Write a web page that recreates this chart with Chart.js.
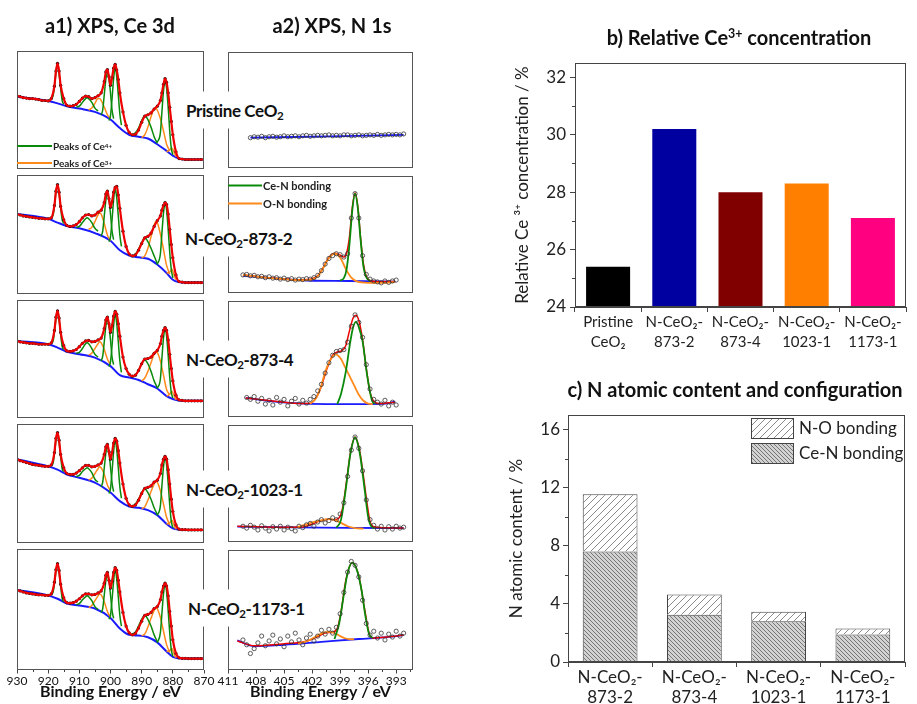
<!DOCTYPE html>
<html><head><meta charset="utf-8"><title>XPS Ce 3d / N 1s</title>
<script src="https://cdn.jsdelivr.net/npm/chart.js@4.4.1/dist/chart.umd.min.js"></script>
<style>
html,body{margin:0;padding:0;background:#fff}
#page{position:relative;width:917px;height:704px;overflow:hidden;font-family:Lato,"Open Sans",sans-serif;color:#111}
canvas{position:absolute;display:block}
.t{position:absolute;white-space:nowrap;z-index:5;line-height:1}
.ttl{font-weight:700;font-size:20px;transform:translate(-50%,-50%)}
.lab{font-weight:700;font-size:17px;letter-spacing:-0.4px;background:#fff;padding:10px 4px;transform:translateY(-50%)}
.leg{font-weight:700;display:flex;align-items:center;transform:translateY(-50%);color:#222}
.leg i{display:inline-block;height:0;border-top:2px solid;margin-right:1px}
sub{font-size:0.68em;vertical-align:-0.3em;line-height:0}
sup{font-size:0.62em;vertical-align:0.55em;line-height:0}
</style></head><body><div id="page">
<div class="t ttl" style="left:110px;top:25px">a1) XPS, Ce 3d</div>
<div class="t ttl" style="left:332px;top:25px">a2) XPS, N 1s</div>
<div class="t ttl" style="left:739px;top:37px">b) Relative Ce<sup>3+</sup> concentration</div>
<div class="t ttl" style="left:735px;top:389px">c) N atomic content and configuration</div>
<div class="t lab" style="left:182px;top:110px">Pristine CeO<sub>2</sub></div>
<div class="t lab" style="left:181px;top:238px">N-CeO<sub>2</sub>-873-2</div>
<div class="t lab" style="left:182px;top:359px">N-CeO<sub>2</sub>-873-4</div>
<div class="t lab" style="left:182px;top:489px">N-CeO<sub>2</sub>-1023-1</div>
<div class="t lab" style="left:184px;top:608px">N-CeO<sub>2</sub>-1173-1</div>
<div class="t leg" style="left:17px;top:145.5px;font-size:10px"><i style="width:35px;border-color:#0a8a0a"></i>Peaks of Ce<sup>4+</sup></div>
<div class="t leg" style="left:17px;top:162.5px;font-size:10px"><i style="width:35px;border-color:#ff8a1c"></i>Peaks of Ce<sup>3+</sup></div>
<div class="t leg" style="left:228px;top:185px;font-size:11px"><i style="width:34px;border-color:#0a8a0a"></i>Ce-N bonding</div>
<div class="t leg" style="left:228px;top:203px;font-size:11px"><i style="width:34px;border-color:#ff8a1c"></i>O-N bonding</div>
</div>
<script>
// ===================== DATA =====================
// --- a1) Ce 3d: binding energy grid (eV) and intensities (a.u., read off each panel)
const ceE = [930,929,928,927,926,925,924,923,922,921, 920,919,918,917.5,917,916.5,916,915,914,913,
  912,911,910,909,908,907,906,905,904,903, 902,901.5,901,900.5,900,899.5,899,898.5,898,897.5,
  897,896,895,894,893,892,891,890,889,888, 887,886,885,884,883.5,883,882.5,882,881.5,881,
  880.5,880,879,878,877,876,875,874,873,872, 871,870];
const ceEnv1 = [77,76,75,74.5,74,74,73.5,73,72,72, 71.5,74,87,103,111,103,88,74,67,66,
  66.5,68,71,74.5,76.5,76,74,75,77,80, 92,102,104.5,97,88,96,106,110,104,94,
  80,60,46,38.5,36,36.5,41,49,55.5,57, 59,63,66,72,80,89,95,91,80,65,
  50,36,18,11,10.5,10,10,10,10,10, 10,10];
const ceEnv2 = [84,83,82,81.5,81,80.5,80,79.5,79.5,79, 79,80,93,108,115,107,92,78,72,71,
  71.5,73,76,80,83,83.5,82,83,86,88, 96,105,108,100,91,97,107,112,113,104,
  90,66,50,42,40,41,46,53,59,60.5, 64,71,77,82,88,93,96,94,84,68,
  52,38,20,13,12.5,12,12,12,12,12, 12,12];
const ceEnv3 = [81,80,79.5,79,78.5,78.5,78,77.5,77.5,77.5, 77.5,79,92,106,112.5,105,90,76,70.5,70,
  70.5,72,75,78.5,81,81.5,80,80.5,82,84, 94,103,106,99,90,97,107,112,109,99,
  86,64,52,46,44,45,50,57,62,62.5, 64,68,71,78,86,92,95,92,82,67,
  52,39,24,19,18.5,18,18,18,18,18, 18,18];
const ceEnv4 = [88,86.5,85.5,84.5,83.5,82.5,82,81.5,81,80.5, 80.5,82,95,110,116,108,93,79,73,72,
  72,73.5,76,79,81.5,81.5,80,80.5,82,84, 93,101,103.5,96,88,95,105,110,107,97,
  84,62,47,40,38.5,40,45,52,57.5,58.5, 60,64,66,73,82,88,91,88,77,62,
  46,33,19,14.5,14,14,13.7,13.7,13.7,13.7, 13.7,13.7];
const ceEnv5 = [82,81,80,79,78.5,78,77.5,77,77,76.5, 76.5,78,90,103,109,102,88,74,69,68.5,
  69,70.5,73,76,78,78,77,77.5,79,81, 89,97,100,92,84,91,100,105,102,92,
  80,59,45,38,36,37.5,43,50,56,57, 59,63,65,72,80,86,89,86,76,60,
  45,31,17,12.5,12,12,11.7,11.7,11.7,11.7, 11.7,11.7];
// background (Shirley-like) of each Ce 3d panel
const ceBgE = [930,920,917,914,910,905,900,897,894,891,888,885,882,880,878,876,870];
const ceBg1 = [76,71.5,69,66,63.5,60,52,43,36,34,32,26,19,14,11,10,10];
const ceBg2 = [84,79,75,71.5,69,64,56,46,40.5,38.5,37,31,22,15,12.5,12,12];
const ceBg3 = [81,77.5,74,69.5,67,63.5,54.5,45,42.5,40,35.5,31,23,20,18.3,18,18];
const ceBg4 = [88,80.5,77,72,68.5,63.5,53,44,38.3,37,34.5,29.3,20,15.5,14,13.7,13.7];
const ceBg5 = [82,76.5,73,68,66,63,53.3,42.5,36,35.3,33.5,28.3,19,13.5,12,11.7,11.7];
// fitted components: Ce4+ (u''', u'', u, v''', v'', v) and Ce3+ (u', v', v0)
const ceGreenE = [[920,918.5,918,917.5,917,916.5,916,915.5,915],
  [911,910,909,908,907.5,907,906,905,904],
  [903,902.5,902,901.5,901,900.5,900,899.5,899],
  [900.5,900,899.5,899,898.5,898,897.5,897,896.5],
  [893,892,891,890,889,888,887,886,885],
  [885,884,883.5,883,882.5,882,881.5,881,880.5,880]];
const ceOrangeE = [[907,906,905,904,903.5,903,902,901,900],
  [890,889,888,887,886,885.5,885,884,883,882,881],
  [882,881,880.3,879.5,879]];
const ceGreen1 = [[72,76,86,101,110,100,85,72,68],[65,66,70,74,75,74,70,64,61],[57,62,78,94,101,95,80,62,53],
  [51,56,74,95,107,97,78,58,46],[36,38,43,51,56,52,44,34,27],[28,38,60,82,92,85,65,40,22,15]];
const ceOrange1 = [[62,64,69,74,74,72,65,57,53],[33,36,44,55,63,64,62,53,40,26,19],[18,20,22,17,13]];
const ceGreen2 = [[79,82,92,107,114,106,91,78,74],[70,71,75,79,80,79,75,69,66],[61,66,82,98,105,99,84,66,57],
  [55,60,78,99,111,101,82,62,50],[40,42,47,54,59,55,48,40,32],[31,42,64,85,95,88,68,44,26,17]];
const ceOrange2 = [[68,70,76,83,85,84,74,62,56],[38,40,48,60,72,76,75,63,47,30,21],[22,23,26,19,15]];
const ceGreen3 = [[77.5,80,90,104,112,103,88,75,72],[68,69,73,78,79,78,73,67,64],[60,65,80,96,103,97,82,64,56],
  [54,59,76,97,109,99,80,60,48],[43,45,50,57,61,57,49,39,32],[31,41,63,84,93,86,66,43,27,21]];
const ceOrange3 = [[66,68,73,78,80,79,72,62,56],[39,42,49,58,67,70,69,60,45,30,24],[23,25,28,23,19]];
const ceGreen4 = [[80.5,83,93,108,115,106,91,78,75],[70,71,75,78,79,78,74,67,64],[59,64,79,94,101,95,80,63,54],
  [52,57,75,96,108,98,79,59,47],[39,41,46,53,57,53,46,37,30],[29,39,60,80,89,82,63,40,23,16]];
const ceOrange4 = [[66,68,73,78,80,79,72,61,55],[36,38,45,54,62,65,64,55,41,27,19],[20,21,24,18,14.5]];
const ceGreen5 = [[76.5,79,88,101,108.5,100,86,73,70],[67,68,72,75,76,75,71,65,62],[59,63,77,91,97,92,77,61,53],
  [52,56,72,91,103,93,75,56,45],[37,39,45,52,56,52,45,36,29],[28,38,58,78,87,80,61,38,21,14]];
const ceOrange5 = [[64,66,71,76,78,77,70,60,54],[35,37,44,53,61,64,63,54,40,26,18],[19,20,22,16,12.5]];
const ceTicks = [930,920,910,900,890,880,870];
const ceMinor = [925,915,905,895,885,875];

// --- a2) N 1s: energy grid of the measured points and their intensities
const nE = [409.4,409.0,408.6,408.2,407.8,407.4,407.0,406.6,406.2,405.8, 405.4,405.0,404.6,404.2,403.8,403.4,403.0,402.6,402.2,401.8,
  401.4,401.0,400.6,400.2,399.8,399.4,399.0,398.6,398.2,397.8, 397.4,397.0,396.6,396.2,395.8,395.4,395.0,394.6,394.2,393.8,
  393.4,393.0,392.6,392.2];
const nDots1 = [null,null,32.5,33.5,33,34,32.5,33.5,34,33, 33.5,34.5,33.5,34,34.5,33.5,34.5,35,34,34.5,
  35,34.5,35,35.5,34.5,35,34.5,35.5,35.5,34.5, 35,35.5,34.5,35,35.5,35,36,35,35.5,36, 35.5,36,35.5,36.5];
const nDots2 = [19.5,20,18.5,19,17.5,18,16.5,17.5,16,16.5, 15,16,14.5,15.5,14,15,14.5,15.5,15,16.5,
  19,24,31,37,40,42,41,38.5,42,80, 106,80,40,20,15,13,12,11,13,11.5, 13,14,null,null];
const nDots3 = [null,21,19,22,17,20,14,18,13,21, 16,19,12,17,20,14,18,15,19,22,
  28,35,47,58,66,70,71,72,80,97, 109,101,85,56,30,19,16,14,18,12, 16,13,null,null];
const nDots4 = [17,15,18,16,13,17.5,15,12,16.5,14, 17,13,16,14.5,12,17,15.5,18.5,20,17,
  21.5,24,20.5,23,26,24,30,42,70,98, 112,100,76,45,24,18,14,17,13,16.5, 14,17,15,16];
const nDots5 = [31,26,17,22,28,35,25,30,36,27, 32,24,35,29,38,31,26,33,37,30,
  35,41,37,42,38,44,58,80,101,112, 108,96,72,48,36,40,33,38,31,37, 34,40,35,38];
// fitted envelope, background, Ce-N and O-N components: [eV, intensity]
const nFit1 = [];
const nBg1 = [[408.6,32.5],[400,34],[392.2,35.5]];
const nCeN1 = [];
const nON1 = [];
const nFit2 = [[409.4,19.5],[407,16.8],[405,15.2],[403.5,14.3],[402.2,14.8],[401.4,18.5],[400.8,27.5],[400.2,38],[399.6,42.5],[399.0,40.5],[398.6,38.5],[398.3,43],[398.0,60],[397.7,91],[397.4,107],[397.1,92],[396.8,58],[396.5,31],[396.2,18],[395.8,13.5],[395,12.3],[393.1,12.5]];
const nBg2 = [[409.4,18.5],[405,15],[402.5,13.5],[398,13],[393.1,12.2]];
const nON2 = [[409.4,19.5],[407,16.5],[405,15],[403.5,13.8],[402.2,14.3],[401.4,18],[400.8,27],[400.2,37.5],[399.6,42],[399.0,38],[398.4,26],[397.8,16.5],[397.2,12.5],[396.0,11],[394.5,11],[393.1,12]];
const nCeN2 = [[399.0,13.5],[398.6,16],[398.3,26],[398.0,52],[397.7,88],[397.4,106],[397.1,90],[396.8,56],[396.5,28],[396.2,17],[395.8,13]];
const nFit3 = [[409.1,20.5],[406,17],[403,14.5],[402.2,14.8],[401.5,22],[401,33],[400.4,52],[399.8,66],[399.3,69.5],[398.8,71],[398.4,76],[398.0,92],[397.6,106],[397.3,108.5],[397.0,103],[396.6,83],[396.2,52],[395.8,27],[395.4,17],[394.8,14.5],[393.1,16]];
const nBg3 = [[409.1,20.5],[405.5,16],[402.2,14.3],[398,14],[394.5,14.2],[393.1,16.5]];
const nON3 = [[402.2,14.3],[401.6,20],[401.1,31],[400.6,48],[400.2,58],[399.5,67],[398.9,62],[398.6,56],[398.0,44],[397.5,34],[397.0,24],[396.5,17.5],[396.0,14.5],[395.5,14]];
const nCeN3 = [[399.3,14],[398.9,25],[398.4,48],[397.9,81],[397.6,96],[397.3,101.5],[397.0,96],[396.6,81],[396.1,44],[395.6,18],[395.3,14.3]];
const nFit4 = [[410,17],[406,16],[403,16.3],[402.2,18.5],[401.2,22.5],[400.2,24.5],[399.6,24],[399.1,26],[398.7,38],[398.3,66],[397.9,95],[397.4,112],[396.9,97],[396.5,70],[396.1,40],[395.8,22],[395.4,16.5],[394.5,15.5],[392.2,15]];
const nBg4 = [[410,16.5],[404,15.8],[398,15.3],[392.2,15]];
const nON4 = [[403.6,16],[402.8,18.5],[402.0,21],[401.2,23],[400.2,24.5],[399.4,23],[398.8,20],[398.2,17],[397.4,15],[396.5,14.5]];
const nCeN4 = [[399.4,15.5],[398.9,24],[398.4,56],[397.9,94],[397.4,111.5],[396.9,95],[396.4,58],[396.0,27],[395.6,16],[395.3,15]];
const nFit5 = [[410,30],[408.2,25],[405,27],[402.5,30],[401.5,34],[400.5,38.5],[399.8,39],[399.3,43],[398.9,60],[398.4,92],[397.7,111],[397.0,97],[396.4,64],[395.9,38],[395.5,33],[394,34],[392.2,36]];
const nBg5 = [[410,30.5],[408.2,24.5],[405,26],[401,29],[397,32],[394,34],[392.2,36]];
const nON5 = [[403.5,27],[402.5,30],[401.5,35],[400.8,38.5],[400.2,39.3],[399.6,38],[399.0,35],[398.4,32.5],[397.5,31.5]];
const nCeN5 = [[399.6,32],[399.1,48],[398.6,78],[398.2,100],[397.7,110.7],[397.2,103],[396.7,82],[396.3,56],[395.9,37],[395.5,33]];
const nTicks = [411,408,405,402,399,396,393];
const nMinor = [409.5,406.5,403.5,400.5,397.5,394.5,391.5];

// --- b) relative Ce3+ concentration
const bLabels = [['Pristine','CeO₂'],['N-CeO₂-','873-2'],['N-CeO₂-','873-4'],['N-CeO₂-','1023-1'],['N-CeO₂-','1173-1']];
const ce3Values = [25.4, 30.2, 28.0, 28.3, 27.1];
const bTicks = [24, 26, 28, 30, 32];
const bMinor = [25, 27, 29, 31];

// --- c) N atomic content and configuration
const cLabels = [['N-CeO₂-','873-2'],['N-CeO₂-','873-4'],['N-CeO₂-','1023-1'],['N-CeO₂-','1173-1']];
const ceNValues = [7.6, 3.25, 2.8, 1.9];
const noValues = [3.95, 1.4, 0.65, 0.4];
const cTicks = [0, 4, 8, 12, 16];
const cMinor = [2, 6, 10, 14];

// ===================== RENDERING =====================
const bColors = ['#000000', '#0000a0', '#800000', '#ff8000', '#ff0080'];
Chart.defaults.font.family = 'Lato, "Open Sans", sans-serif';
const page = document.getElementById('page');
function mk(left, top, w, h){
  const c = document.createElement('canvas');
  c.width = w; c.height = h;
  c.style.left = left + 'px'; c.style.top = top + 'px';
  c.style.width = w + 'px'; c.style.height = h + 'px';
  page.insertBefore(c, page.firstChild);
  return c;
}
const P = arr => arr.map(([x, y]) => ({x, y}));
const Z = (xs, ys) => xs.map((x, i) => ({x, y: ys[i]}));

const frame = {id:'frame', afterDatasetsDraw(chart, args, o){
  const {ctx, chartArea:a} = chart;
  ctx.save(); ctx.strokeStyle = o.color || '#555'; ctx.lineWidth = 1;
  const l = Math.round(a.left), t = Math.round(a.top), r = Math.round(a.right), b = Math.round(a.bottom);
  ctx.strokeRect(l + 0.5, t + 0.5, r - l - 1, b - t - 1);
  ctx.restore();
}};
const minor = {id:'minor', afterDraw(chart, args, o){
  if (!o || !o.values) return;
  const s = chart.scales[o.axis], a = chart.chartArea, ctx = chart.ctx;
  ctx.save(); ctx.strokeStyle = o.color || '#444'; ctx.lineWidth = 1; ctx.beginPath();
  for (const v of o.values){
    const p = Math.round(s.getPixelForValue(v)) + 0.5;
    if (o.axis === 'x'){ ctx.moveTo(p, a.bottom); ctx.lineTo(p, a.bottom + o.len); }
    else { ctx.moveTo(a.left, p); ctx.lineTo(a.left - o.len, p); }
  }
  ctx.stroke(); ctx.restore();
}};

function spectrum(canvas, xmin, xmax, ticks, minorVals, bandH, bottom, datasets){
  return new Chart(canvas, {type:'line', data:{datasets}, options:{
    animation:false, responsive:false, maintainAspectRatio:false, events:[],
    layout:{padding:{left:15, right:15, top:1, bottom: bottom ? 0 : 1}},
    plugins:{legend:{display:false}, tooltip:{enabled:false}, frame:{color:'#555'},
      minor: bottom ? {axis:'x', values:minorVals, len:2, color:'#444'} : {}},
    elements:{point:{radius:0}, line:{fill:false}},
    scales:{
      x:{type:'linear', min:xmin, max:xmax, reverse:true, display:bottom,
        afterBuildTicks: s => { s.ticks = ticks.map(v => ({value:v})); },
        afterFit: s => { s.height = bottom ? 34 : 0; },
        grid:{drawOnChartArea:false, tickLength:3.5, color:'#444'},
        border:{display:false},
        ticks:{font:{size:12}, color:'#111', padding:0, maxRotation:0, autoSkip:false, callback: v => String(v)},
        title:{display:true, text:'Binding Energy / eV', font:{size:16, weight:'bold'}, color:'#111', padding:{top:0, bottom:3}}},
      y:{min:0, max:bandH, display:false, afterFit: s => { s.width = 0; }}
    }}, plugins:[frame, minor]});
}
function ceSets(env, bg, green, orange){
  const sets = [];
  sets.push({data:Z(ceE, env), borderColor:'#ee0000', borderWidth:2.2, cubicInterpolationMode:'monotone', pointRadius:0});
  sets.push({data:Z(ceE, env), showLine:false, pointRadius:1.6, pointBackgroundColor:'#111', pointBorderWidth:0});
  green.forEach((g, k) => sets.push({data:Z(ceGreenE[k], g), borderColor:'#0a8a0a', borderWidth:1.5, cubicInterpolationMode:'monotone'}));
  orange.forEach((g, k) => sets.push({data:Z(ceOrangeE[k], g), borderColor:'#ff8a1c', borderWidth:1.5, cubicInterpolationMode:'monotone'}));
  sets.push({data:Z(ceBgE, bg), borderColor:'#1a1aff', borderWidth:2, cubicInterpolationMode:'monotone'});
  return sets;
}
function nSets(dots, fit, bg, ceN, on){
  return [
    {data:Z(nE, dots), showLine:false, pointRadius:2.1, pointBorderColor:'#333', pointBorderWidth:0.8, pointBackgroundColor:'rgba(255,255,255,0)'},
    {data:P(ceN), borderColor:'#0a8a0a', borderWidth:1.8, cubicInterpolationMode:'monotone'},
    {data:P(on), borderColor:'#ff8a1c', borderWidth:1.8, cubicInterpolationMode:'monotone'},
    {data:P(fit), borderColor:'#ee0000', borderWidth:1.5, cubicInterpolationMode:'monotone'},
    {data:P(bg), borderColor:'#1a1aff', borderWidth:1.8, cubicInterpolationMode:'monotone'}
  ];
}
const ceEnvs = [ceEnv1, ceEnv2, ceEnv3, ceEnv4, ceEnv5];
const ceBgs = [ceBg1, ceBg2, ceBg3, ceBg4, ceBg5];
const ceGreens = [ceGreen1, ceGreen2, ceGreen3, ceGreen4, ceGreen5];
const ceOranges = [ceOrange1, ceOrange2, ceOrange3, ceOrange4, ceOrange5];
const nDots = [nDots1, nDots2, nDots3, nDots4, nDots5];
const nFits = [nFit1, nFit2, nFit3, nFit4, nFit5];
const nBgs = [nBg1, nBg2, nBg3, nBg4, nBg5];
const nCeNs = [nCeN1, nCeN2, nCeN3, nCeN4, nCeN5];
const nONs = [nON1, nON2, nON3, nON4, nON5];
const bandTops = [48, 172, 297, 421, 546], bandBot = 670;
for (let i = 0; i < 5; i++){
  const top = bandTops[i];
  const h = (i < 4 ? bandTops[i + 1] : bandBot) - top;
  const bottom = i === 4;
  const ch = bottom ? h + 1 + 34 : h + 2;
  spectrum(mk(2, top - 1, 217, ch), 870, 930, ceTicks, ceMinor, h, bottom, ceSets(ceEnvs[i], ceBgs[i], ceGreens[i], ceOranges[i]));
  spectrum(mk(213, top - 1, 215, ch), 391.2, 411, nTicks, nMinor, h, bottom, nSets(nDots[i], nFits[i], nBgs[i], nCeNs[i], nONs[i]));
}

// ---- panel b
new Chart(mk(490, 40, 427, 320), {type:'bar',
  data:{labels:bLabels, datasets:[{data:ce3Values, backgroundColor:bColors, borderWidth:0, barPercentage:0.665, categoryPercentage:1}]},
  options:{animation:false, responsive:false, events:[],
    layout:{padding:{left:18, right:11, top:23, bottom:0}},
    plugins:{legend:{display:false}, tooltip:{enabled:false}, frame:{color:'#444'}, minor:{axis:'y', values:bMinor, len:3, color:'#444'}},
    scales:{
      x:{grid:{drawOnChartArea:false, tickLength:5, color:'#444', offset:true}, border:{color:'#444'},
        ticks:{font:{size:15, lineHeight:1.35}, color:'#222', padding:0, maxRotation:0, autoSkip:false},
        afterFit: s => { s.height = 53; }},
      y:{min:24, max:32.5, afterBuildTicks: s => { s.ticks = bTicks.map(v => ({value:v})); },
        grid:{drawOnChartArea:false, tickLength:5, color:'#444'}, border:{color:'#444'},
        ticks:{font:{size:17}, color:'#222', padding:4},
        title:{display:true, text:'Relative Ce ³⁺ concentration / %', font:{size:17}, color:'#222', padding:{top:4, bottom:0}},
        afterFit: s => { s.width = 67; }}
    }}, plugins:[frame, minor]});

// ---- panel c
function hatch(bg, fg, size, dir, lw){
  const c = document.createElement('canvas'); c.width = c.height = size;
  const x = c.getContext('2d');
  x.fillStyle = bg; x.fillRect(0, 0, size, size);
  x.strokeStyle = fg; x.lineWidth = lw; x.beginPath();
  if (dir === '\\'){
    x.moveTo(-1, -1); x.lineTo(size + 1, size + 1);
    x.moveTo(-1, size - 1); x.lineTo(1, size + 1);
    x.moveTo(size - 1, -1); x.lineTo(size + 1, 1);
  } else {
    x.moveTo(-1, size + 1); x.lineTo(size + 1, -1);
    x.moveTo(-1, 1); x.lineTo(1, -1);
    x.moveTo(size - 1, size + 1); x.lineTo(size + 1, size - 1);
  }
  x.stroke();
  return x.createPattern(c, 'repeat');
}
const patCeN = hatch('#d2d2d2', '#6a6a6a', 4, '\\', 0.9);
const patNO = hatch('#ffffff', '#8a8a8a', 7, '/', 1);
const hatchLegend = {id:'hatchLegend', afterDraw(chart){
  const {ctx, chartArea:ca} = chart; const ds = chart.data.datasets;
  const items = [ds[1], ds[0]];
  const x = ca.right - 154; let y = ca.top + 3;
  ctx.save();
  items.forEach(d => {
    ctx.fillStyle = d.backgroundColor; ctx.fillRect(x, y, 43, 21);
    ctx.strokeStyle = '#444'; ctx.lineWidth = 1; ctx.strokeRect(x + 0.5, y + 0.5, 42, 20);
    ctx.fillStyle = '#222'; ctx.font = '17px Lato, "Open Sans", sans-serif'; ctx.textBaseline = 'middle';
    ctx.fillText(d.label, x + 48, y + 11);
    y += 25;
  });
  ctx.restore();
}};
new Chart(mk(490, 400, 427, 304), {type:'bar',
  data:{labels:cLabels, datasets:[
    {label:'Ce-N bonding', data:ceNValues, backgroundColor:patCeN, borderColor:'#444', borderWidth:1, barPercentage:0.65, categoryPercentage:1},
    {label:'N-O bonding', data:noValues, backgroundColor:patNO, borderColor:'#444', borderWidth:1, barPercentage:0.65, categoryPercentage:1}]},
  options:{animation:false, responsive:false, events:[],
    layout:{padding:{left:12, right:12, top:15, bottom:0}},
    plugins:{legend:{display:false}, tooltip:{enabled:false}, frame:{color:'#444'}, minor:{axis:'y', values:cMinor, len:3, color:'#444'}},
    scales:{
      x:{stacked:true, grid:{drawOnChartArea:false, tickLength:5, color:'#444', offset:true}, border:{color:'#444'},
        ticks:{font:{size:17, lineHeight:1.2}, color:'#222', padding:0, maxRotation:0, autoSkip:false},
        afterFit: s => { s.height = 42; }},
      y:{stacked:true, min:0, max:17, afterBuildTicks: s => { s.ticks = cTicks.map(v => ({value:v})); },
        grid:{drawOnChartArea:false, tickLength:5, color:'#444'}, border:{color:'#444'},
        ticks:{font:{size:17}, color:'#222', padding:3},
        title:{display:true, text:'N atomic content / %', font:{size:17}, color:'#222', padding:{top:4, bottom:0}},
        afterFit: s => { s.width = 66; }}
    }}, plugins:[frame, minor, hatchLegend]});
</script>
</body></html>
